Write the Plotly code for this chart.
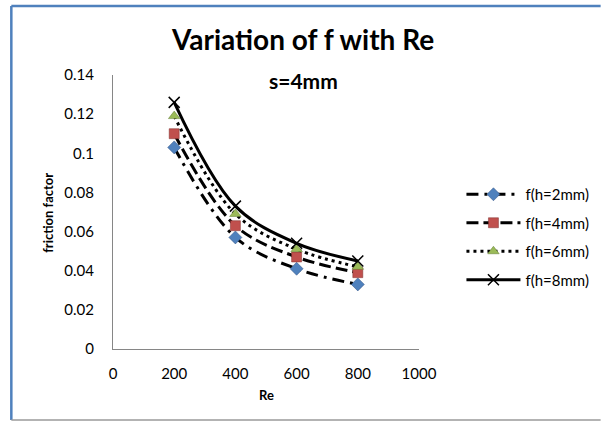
import plotly.graph_objects as go

# Reynolds numbers and friction factors for each rib height (s = 4 mm)
re_values = [200, 400, 600, 800]
f_h2 = [0.103, 0.057, 0.041, 0.033]
f_h4 = [0.110, 0.063, 0.047, 0.039]
f_h6 = [0.119, 0.069, 0.051, 0.042]
f_h8 = [0.126, 0.073, 0.054, 0.045]

series_names = ["f(h=2mm)", "f(h=4mm)", "f(h=6mm)", "f(h=8mm)"]

x_tick_vals = [0, 200, 400, 600, 800, 1000]
x_tick_text = ["0", "200", "400", "600", "800", "1000"]
y_tick_vals = [0, 0.02, 0.04, 0.06, 0.08, 0.10, 0.12, 0.14]
y_tick_text = ["0", "0.02", "0.04", "0.06", "0.08", "0.1", "0.12", "0.14"]

W, H = 607, 421
L, R, T, B = 113, 184, 75, 72
FONT = "Lato"


def px_x(px):
    return (px - L) / (W - L - R)


def px_y(py):
    return (H - B - py) / (H - T - B)


styles = [
    dict(dash="12px,6px,3px,6px",
         marker=dict(symbol="diamond", size=10, color="#4F81BD",
                     line=dict(width=0.5, color="#2f4f7f"))),
    dict(dash="12px,5px",
         marker=dict(symbol="square", size=10, color="#C0504D",
                     line=dict(width=0.5, color="#7f2f2d"))),
    dict(dash="3px,4px",
         marker=dict(symbol="triangle-up", size=10, color="#9BBB59",
                     line=dict(width=0.5, color="#5f7a2f"))),
    dict(dash="solid",
         marker=dict(symbol="x-thin", size=11, color="black",
                     line=dict(width=1.5, color="black"))),
]

fig = go.Figure()
for i, (name, ys, st) in enumerate(zip(series_names, [f_h2, f_h4, f_h6, f_h8], styles)):
    fig.add_trace(go.Scatter(
        x=re_values, y=ys, name=name, mode="lines+markers",
        legendgroup=f"g{i}",
        line=dict(color="black", width=3, dash=st["dash"], shape="spline", smoothing=1.0),
        marker=st["marker"],
    ))


def label(text, x, y, size, angle=0):
    return dict(text=text, x=px_x(x), y=px_y(y), xref="paper", yref="paper",
                xanchor="center", yanchor="middle", showarrow=False,
                textangle=angle, font=dict(family=FONT, size=size, color="black"))


fig.update_layout(
    width=W, height=H, autosize=False,
    margin=dict(l=L, r=R, t=T, b=B, pad=0),
    paper_bgcolor="white", plot_bgcolor="white",
    font=dict(family=FONT, size=15, color="black"),
    showlegend=True,
    legend=dict(
        x=px_x(466), y=px_y(178), xanchor="left", yanchor="top",
        font=dict(family=FONT, size=15, color="black"),
        itemwidth=54, tracegroupgap=6, bgcolor="rgba(0,0,0,0)",
    ),
    xaxis=dict(
        range=[0, 1000], tickvals=x_tick_vals, ticktext=x_tick_text,
        showline=True, linecolor="#868686", linewidth=1, showgrid=False,
        zeroline=False, ticks="outside", ticklen=11, tickcolor="rgba(0,0,0,0)",
        tickfont=dict(family=FONT, size=15, color="black"),
    ),
    yaxis=dict(
        range=[0, 0.14], tickvals=y_tick_vals, ticktext=y_tick_text,
        showline=True, linecolor="#868686", linewidth=1, showgrid=False,
        zeroline=False, ticks="outside", ticklen=15, tickcolor="rgba(0,0,0,0)",
        tickfont=dict(family=FONT, size=15, color="black"),
    ),
    annotations=[
        label("<b>Variation of f with Re</b>", 305, 39, 28),
        label("<b>s=4mm</b>", 306, 80, 21),
        label("<b>Re</b>", 268, 395, 13),
        label("<b>friction factor</b>", 47, 213, 13, angle=-90),
    ],
    shapes=[
        # chart-area frame
        dict(type="line", xref="paper", yref="paper",
             x0=px_x(10), x1=px_x(10), y0=px_y(6), y1=px_y(420),
             line=dict(color="#4F81BD", width=2.5)),
        dict(type="line", xref="paper", yref="paper",
             x0=px_x(10), x1=px_x(607), y0=px_y(6), y1=px_y(6),
             line=dict(color="#4F81BD", width=2.5)),
        dict(type="line", xref="paper", yref="paper",
             x0=px_x(10), x1=px_x(607), y0=px_y(420), y1=px_y(420),
             line=dict(color="#9a9a9a", width=1.5)),
    ],
)

fig.write_html("out.html")
